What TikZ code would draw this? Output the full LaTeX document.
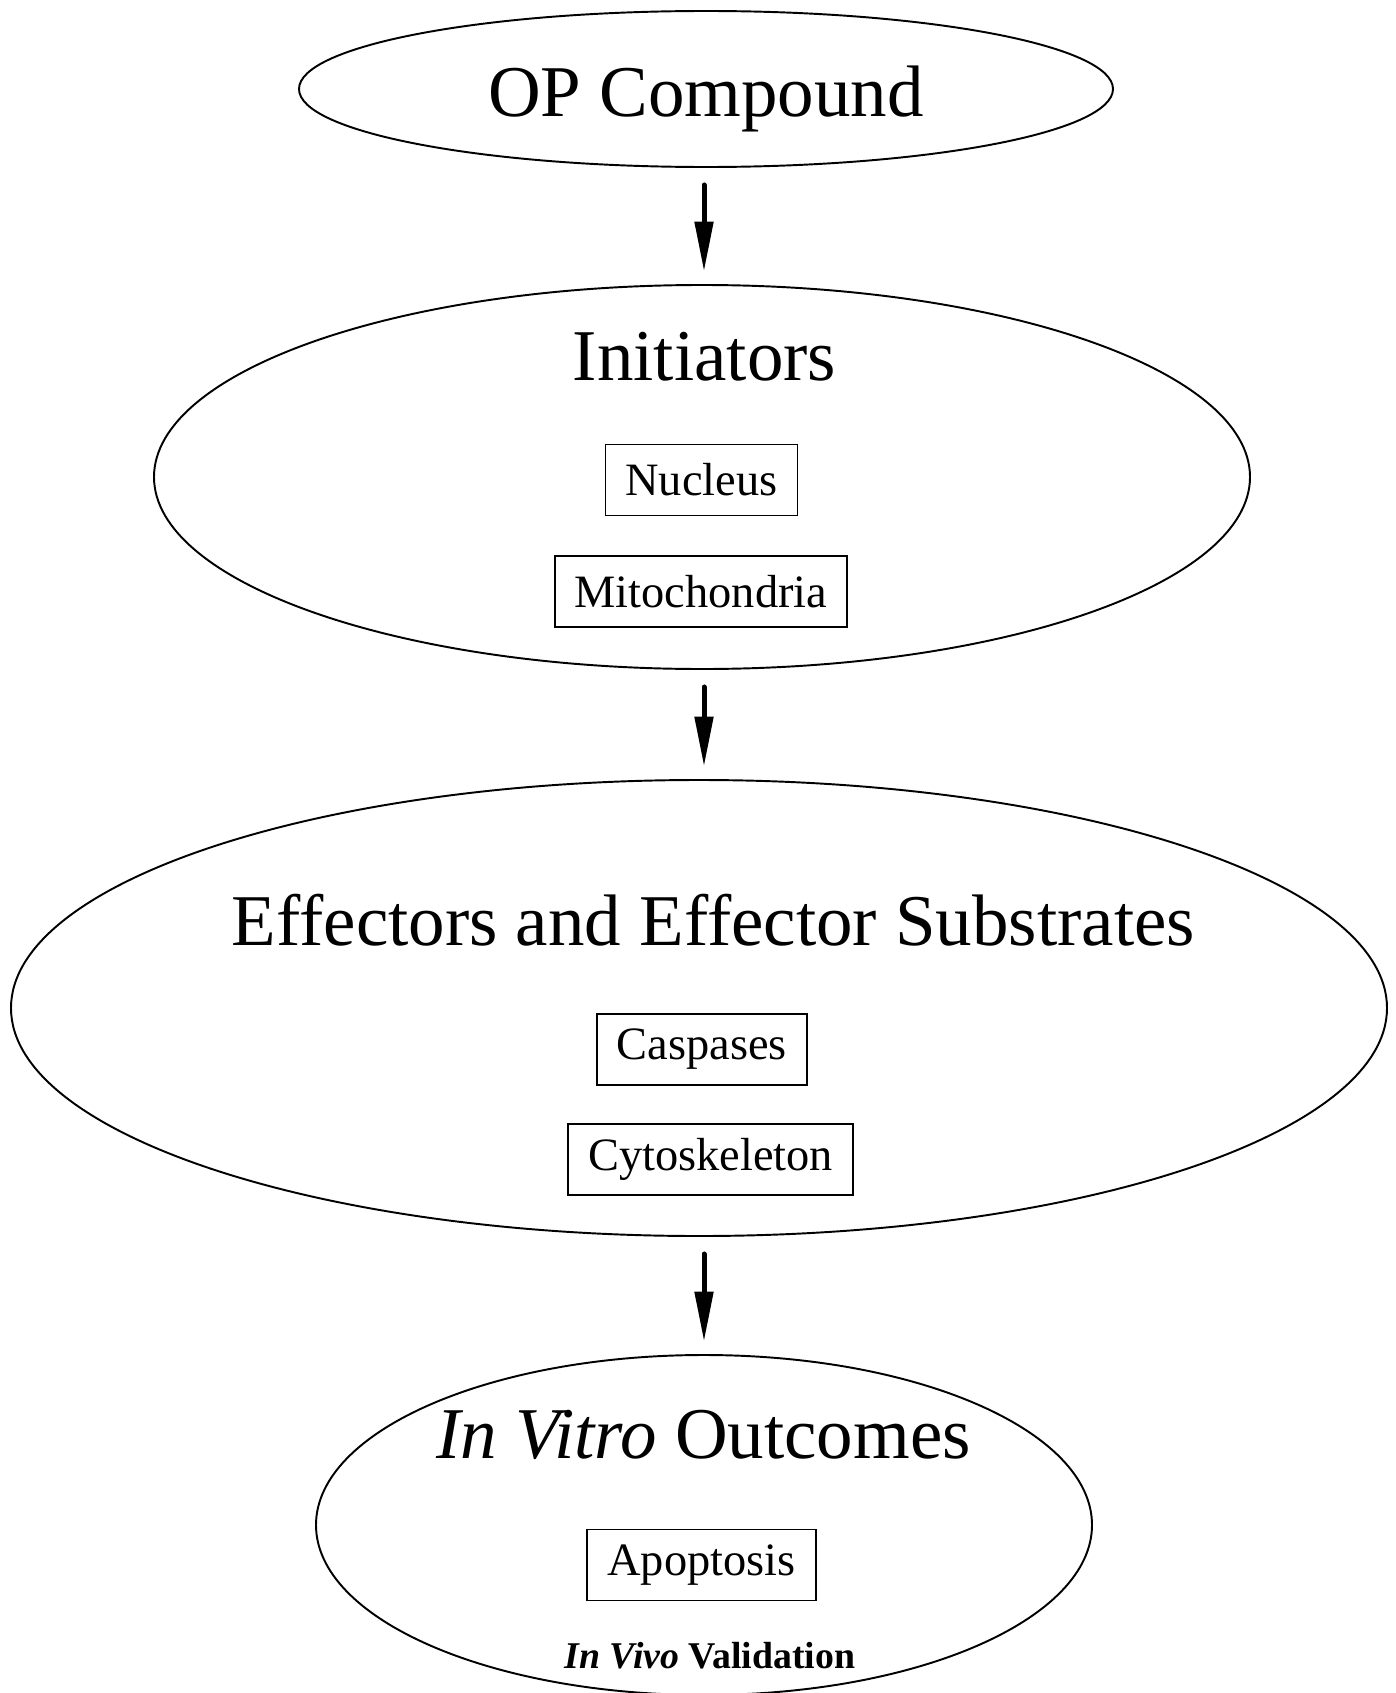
\documentclass[tikz,border=0pt]{standalone}
\usepackage{fontspec}
\setmainfont{Liberation Serif}
\usetikzlibrary{shapes.geometric,arrows.meta}
\newcommand\BigText{\fontsize{41.5}{48}\selectfont}
\newcommand\BoxText{\fontsize{26.4}{32}\selectfont}
\newcommand\SmallText{\fontsize{21.5}{26}\selectfont}

\begin{document}
\begin{tikzpicture}[
    stage/.style={draw, ellipse, line width=1.1pt, inner sep=0pt},
    item/.style={draw, rectangle, line width=1.1pt, inner xsep=0.4cm, minimum height=1.42cm, font=\BoxText},
    title/.style={anchor=base, font=\BigText},
    flow/.style={-{Triangle[length=1cm,width=0.36cm]}, line width=0.1cm, line cap=round, shorten <=0.34cm, shorten >=0.25cm}]
    \useasboundingbox (0,0) rectangle (27.9,-33.86);
    % stages
    \node[stage, minimum width=16.28cm, minimum height=3.12cm] (op) at (14.12,-1.78) {};
    \node[stage, minimum width=21.92cm, minimum height=7.68cm] (init) at (14.04,-9.54) {};
    \node[stage, minimum width=27.52cm, minimum height=9.12cm] (eff) at (13.98,-20.16) {};
    \node[stage, minimum width=15.52cm, minimum height=6.8cm] (vitro) at (14.08,-30.5) {};
    % titles
    \node[title] (opT) at (14.12,-2.34) {OP Compound};
    \node[title] (initT) at (14.09,-7.6) {Initiators};
    \node[title] (effT) at (14.27,-18.9) {Effectors and Effector Substrates};
    \node[title] (vitroT) at (14.07,-29.16) {\textit{In Vitro} Outcomes};
    \node[anchor=base, font=\SmallText] (vivoT) at (14.2,-33.36) {\textbf{\textit{In Vivo} Validation}};
    % boxes
    \node[item] (nucleus) at (14.03,-9.6) {Nucleus};
    \node[item] (mito) at (14.02,-11.83) {Mitochondria};
    \node[item] (casp) at (14.04,-20.99) {Caspases};
    \node[item] (cyto) at (14.21,-23.19) {Cytoskeleton};
    \node[item] (apop) at (14.03,-31.3) {Apoptosis};
    % arrows
    \draw[flow] (op.south -| vitro) -- (init.north -| vitro);
    \draw[flow] (init.south -| vitro) -- (eff.north -| vitro);
    \draw[flow] (eff.south -| vitro) -- (vitro.north);
\end{tikzpicture}
\end{document}
